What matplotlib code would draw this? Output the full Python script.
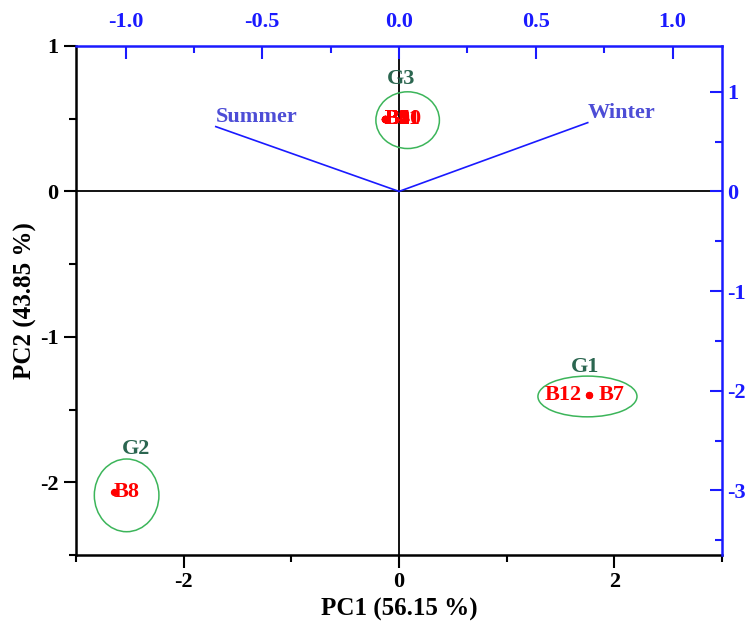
import matplotlib
matplotlib.use("Agg")
import matplotlib.pyplot as plt
from matplotlib.patches import Ellipse
from matplotlib.ticker import MultipleLocator, FormatStrFormatter

plt.rcParams['font.family'] = ['Liberation Serif', 'DejaVu Serif']
plt.rcParams['font.weight'] = 'bold'
plt.rcParams['axes.labelweight'] = 'bold'
plt.rcParams['axes.unicode_minus'] = False

# sample scores (PC1, PC2)
samples = ['B1', 'B2', 'B3', 'B4', 'B5', 'B6', 'B9', 'B10', 'B11', 'B8', 'B12', 'B7']
pc1 = [-0.13, -0.13, -0.13, -0.13, -0.13, -0.13, -0.13, -0.13, -0.13, -2.65, 1.76, 1.76]
pc2 = [0.50, 0.50, 0.50, 0.50, 0.50, 0.50, 0.50, 0.50, 0.50, -2.07, -1.40, -1.40]

# variable loadings
variables = ['Summer', 'Winter']
load1 = [-0.67, 0.69]
load2 = [0.65, 0.69]

groups = ['G1', 'G2', 'G3']

fig = plt.figure(figsize=(7.49, 6.24), dpi=100)
pos = [0.1015, 0.1106, 0.8625, 0.8157]
ax = fig.add_axes(pos)
ax.set_xlim(-3, 3)
ax.set_ylim(-2.5, 1)

ax.axhline(0, color='black', lw=1.3, zorder=1)
ax.axvline(0, color='black', lw=1.3, zorder=1)

ax.scatter(pc1, pc2, s=18, color='red', zorder=3)
for name, x, y in zip(samples, pc1, pc2):
    if name == 'B12':
        ax.annotate(name, (x, y), xytext=(-5, 0), textcoords='offset points',
                    ha='right', va='center', color='red', fontsize=16)
    elif name == 'B7':
        ax.annotate(name, (x, y), xytext=(7, 0), textcoords='offset points',
                    ha='left', va='center', color='red', fontsize=16)
    else:
        ax.annotate(name, (x, y), xytext=(0, 0), textcoords='offset points',
                    ha='left', va='center', color='red', fontsize=16)

# group ellipses
ell_color = '#3cb55a'
ax.add_patch(Ellipse((1.75, -1.41), 0.92, 0.28, fill=False, ec=ell_color, lw=1.1))
ax.add_patch(Ellipse((-2.53, -2.09), 0.60, 0.50, fill=False, ec=ell_color, lw=1.1))
ax.add_patch(Ellipse((0.08, 0.49), 0.59, 0.39, fill=False, ec=ell_color, lw=1.1))
gcol = '#2b6650'
ax.text(1.73, -1.21, groups[0], color=gcol, fontsize=16, ha='center', va='center')
ax.text(-2.44, -1.77, groups[1], color=gcol, fontsize=16, ha='center', va='center')
ax.text(0.02, 0.77, groups[2], color=gcol, fontsize=16, ha='center', va='center')

# left / bottom axes
for s in ['top', 'right']:
    ax.spines[s].set_visible(False)
for s in ['left', 'bottom']:
    ax.spines[s].set_linewidth(1.8)
ax.xaxis.set_major_locator(MultipleLocator(2))
ax.xaxis.set_minor_locator(MultipleLocator(1))
ax.yaxis.set_major_locator(MultipleLocator(1))
ax.yaxis.set_minor_locator(MultipleLocator(0.5))
ax.tick_params(which='major', direction='out', length=9, width=1.5, labelsize=16)
ax.tick_params(which='minor', direction='out', length=5, width=1.5)
ax.set_xlabel('PC1 (56.15 %)', fontsize=18, labelpad=4)
ax.set_ylabel('PC2 (43.85 %)', fontsize=18, labelpad=2)

# top / right loading axes
blue = '#1a1aff'
ax2 = fig.add_axes(pos, facecolor='none')
ax2.set_xlim(-3 / 2.54, 3 / 2.54)
ax2.set_ylim(-2.5 * 1.459, 1.459)
ax2.xaxis.tick_top()
ax2.yaxis.tick_right()
for s in ['left', 'bottom']:
    ax2.spines[s].set_visible(False)
for s in ['top', 'right']:
    ax2.spines[s].set_color(blue)
    ax2.spines[s].set_linewidth(1.8)
ax2.xaxis.set_major_locator(MultipleLocator(0.5))
ax2.xaxis.set_minor_locator(MultipleLocator(0.25))
ax2.xaxis.set_major_formatter(FormatStrFormatter('%.1f'))
ax2.yaxis.set_major_locator(MultipleLocator(1))
ax2.yaxis.set_minor_locator(MultipleLocator(0.5))
ax2.tick_params(which='major', direction='in', length=9, width=1.5,
                color=blue, labelcolor=blue, labelsize=16)
ax2.tick_params(axis='x', which='major', pad=10)
ax2.tick_params(which='minor', direction='in', length=5, width=1.5, color=blue)

for name, x, y in zip(variables, load1, load2):
    ax2.plot([0, x], [0, y], color=blue, lw=1.2)
    ax2.text(x, y, name, color='#4d4dd6', fontsize=16, ha='left', va='bottom')

fig.savefig('out.png', dpi=100)
